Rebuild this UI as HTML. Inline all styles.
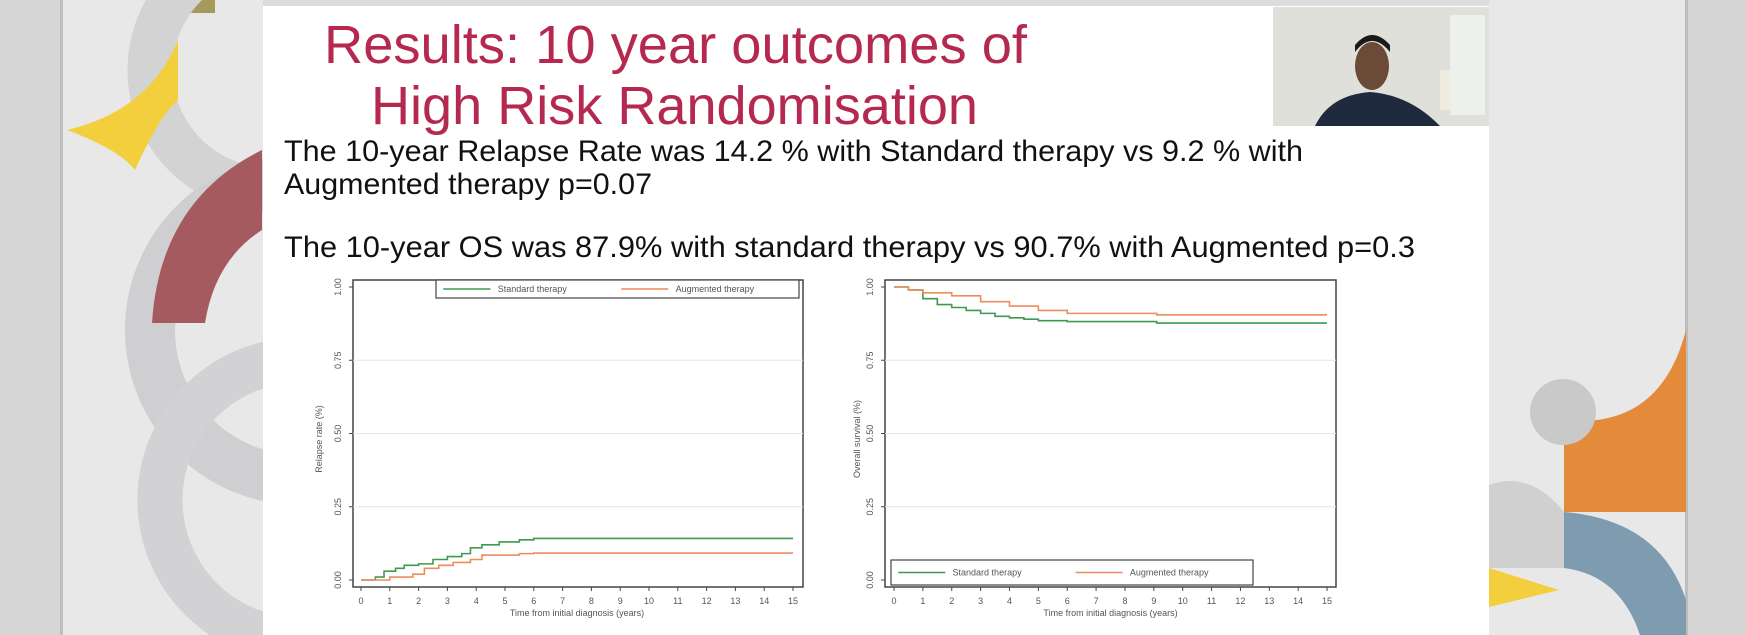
<!DOCTYPE html>
<html><head><meta charset="utf-8"><style>
html,body{margin:0;padding:0;width:1746px;height:635px;overflow:hidden;background:#e9e9e9}
svg{display:block}
text{font-family:"Liberation Sans",sans-serif}
</style></head><body>
<svg id="s" width="1746" height="635" viewBox="0 0 1746 635" xmlns="http://www.w3.org/2000/svg">
<defs>
<clipPath id="cl"><rect x="62" y="0" width="201" height="635"/></clipPath>
<clipPath id="cr"><rect x="1489" y="0" width="197" height="635"/></clipPath>
</defs>
<rect x="0" y="0" width="1746" height="635" fill="#e8e8e8"/>
<rect x="0" y="0" width="62" height="635" fill="#d6d6d6"/>
<rect x="60" y="0" width="3" height="635" fill="#bdbdbd"/>
<rect x="1686" y="0" width="60" height="635" fill="#d4d4d4"/>
<rect x="1685" y="0" width="3" height="635" fill="#bdbdbd"/>
<g clip-path="url(#cl)">
 <rect x="148" y="0" width="67" height="13" fill="#a59a5c"/>
 <circle cx="270" cy="70" r="120" fill="none" stroke="#d3d3d3" stroke-width="45"/>
 <path d="M178 40 Q150 110 67 130 Q120 150 135 170 Q160 115 178 100 Z" fill="#f4cf3d"/>
 <circle cx="300" cy="330" r="150" fill="none" stroke="#cfcfd1" stroke-width="50"/>
 <path d="M152 323 Q160 200 262 150 L262 230 Q215 260 205 323 Z" fill="#a55a5f"/>
 <circle cx="300" cy="500" r="140" fill="none" stroke="#d2d2d4" stroke-width="45"/>
</g>
<g clip-path="url(#cr)">
 <path d="M1489 485 Q1530 470 1564 512 L1564 568 L1489 568 Z" fill="#d0d0d0"/>
 <path d="M1564 512 L1564 420 Q1660 430 1686 330 L1686 512 Z" fill="#e48a3b"/>
 <path d="M1564 512 Q1660 520 1686 600 L1686 635 L1640 635 Q1620 575 1564 568 Z" fill="#7e9bb0"/>
 <path d="M1489 568 L1559 590 L1489 607 Z" fill="#f4cf3d"/>
 <circle cx="1563" cy="412" r="33" fill="#c9c9c9"/>
</g>
<rect x="263" y="6" width="1226" height="629" fill="#ffffff"/>
<rect x="263" y="0" width="1226" height="6" fill="#dcdcdc"/>
<!-- webcam -->
<rect x="1273" y="7" width="216" height="119" fill="#dfe0da"/>
<rect x="1450" y="15" width="35" height="100" fill="#eef0ee"/>
<rect x="1440" y="70" width="10" height="40" fill="#f0ede0"/>
<path d="M1315 126 Q1330 95 1370 92 Q1410 95 1440 126 Z" fill="#1f2a3f"/>
<ellipse cx="1372" cy="66" rx="17" ry="24" fill="#6b4a38"/>
<path d="M1355 52 Q1372 30 1390 52 L1390 45 Q1372 25 1355 45 Z" fill="#1a1a1a"/>
<text x="324" y="63" font-size="54" fill="#b5284f" textLength="703" lengthAdjust="spacingAndGlyphs">Results: 10 year outcomes of</text>
<text x="371" y="124" font-size="54" fill="#b5284f" textLength="607" lengthAdjust="spacingAndGlyphs">High Risk Randomisation</text>
<text x="284" y="161" font-size="30" fill="#111" textLength="1019" lengthAdjust="spacingAndGlyphs">The 10-year Relapse Rate was 14.2 % with Standard therapy vs 9.2 % with</text>
<text x="284" y="194" font-size="30" fill="#111" textLength="368" lengthAdjust="spacingAndGlyphs">Augmented therapy p=0.07</text>
<text x="284" y="257" font-size="30" fill="#111" textLength="1131" lengthAdjust="spacingAndGlyphs">The 10-year OS was 87.9% with standard therapy vs 90.7%  with Augmented p=0.3</text>
<g id="charts"></g>
</svg>
<script>
var g=document.getElementById('charts'),h='';
function chart(bx0,bx1,x0,xs,title,ytitle,ytx,curves,leg){
 h+='<rect x="'+bx0+'" y="280" width="'+(bx1-bx0)+'" height="307" fill="#fff" stroke="#444" stroke-width="1.5"/>';
 [0.25,0.5,0.75].forEach(function(v){var y=580-v*293;h+='<line x1="'+bx0+'" x2="'+bx1+'" y1="'+y+'" y2="'+y+'" stroke="#e6e6e6"/>';});
 ['0.00','0.25','0.50','0.75','1.00'].forEach(function(l,i){var y=580-i*0.25*293;
  h+='<line x1="'+(bx0-4)+'" x2="'+bx0+'" y1="'+y+'" y2="'+y+'" stroke="#444"/>';
  h+='<text font-size="9" fill="#555" text-anchor="middle" transform="translate('+(bx0-12)+','+y+') rotate(-90)">'+l+'</text>';});
 for(var t=0;t<=15;t++){var x=x0+t*xs;h+='<line x1="'+x+'" x2="'+x+'" y1="587" y2="591" stroke="#444"/><text x="'+x+'" y="604" font-size="9" fill="#555" text-anchor="middle">'+t+'</text>';}
 h+='<text x="'+((x0+x0+15*xs)/2)+'" y="616" font-size="9" fill="#555" text-anchor="middle">Time from initial diagnosis (years)</text>';
 h+='<text font-size="9" fill="#555" text-anchor="middle" transform="translate('+ytx+',439) rotate(-90)">'+ytitle+'</text>';
 curves.forEach(function(c){var p='';c.pts.forEach(function(q,i){var x=x0+q[0]*xs,y=580-q[1]*293;
  if(i==0)p='M'+x+' '+y;else p+=' H'+x+' V'+y;});
  h+='<path d="'+p+'" fill="none" stroke="'+c.col+'" stroke-width="1.6"/>';});
 var L=leg;h+='<rect x="'+L[0]+'" y="'+L[1]+'" width="'+(L[2]-L[0])+'" height="'+(L[3]-L[1])+'" fill="#fff" stroke="#444" stroke-width="1.2"/>';
 var w=L[2]-L[0],my=(L[1]+L[3])/2;
 h+='<line x1="'+(L[0]+w*0.02)+'" x2="'+(L[0]+w*0.15)+'" y1="'+my+'" y2="'+my+'" stroke="#3f9a4f" stroke-width="1.6"/>';
 h+='<text x="'+(L[0]+w*0.17)+'" y="'+(my+3)+'" font-size="9" fill="#555">Standard therapy</text>';
 h+='<line x1="'+(L[0]+w*0.51)+'" x2="'+(L[0]+w*0.64)+'" y1="'+my+'" y2="'+my+'" stroke="#ee8c5c" stroke-width="1.6"/>';
 h+='<text x="'+(L[0]+w*0.66)+'" y="'+(my+3)+'" font-size="9" fill="#555">Augmented therapy</text>';
}
chart(353,803,361,28.8,'','Relapse rate (%)',322,[
 {col:'#3f9a4f',pts:[[0,0],[0.5,0.01],[0.8,0.03],[1.2,0.04],[1.5,0.05],[2,0.055],[2.5,0.07],[3,0.08],[3.5,0.09],[3.8,0.11],[4.2,0.12],[4.8,0.13],[5.5,0.137],[6,0.142],[15,0.142]]},
 {col:'#ee8c5c',pts:[[0,0],[1,0.01],[1.8,0.02],[2.2,0.04],[2.7,0.05],[3.2,0.06],[3.8,0.07],[4.2,0.085],[5.5,0.09],[6,0.092],[15,0.092]]}],
 [436,280,799,298]);
chart(885,1336,894,28.87,'','Overall survival (%)',860,[
 {col:'#3f9a4f',pts:[[0,1],[0.5,0.99],[1,0.96],[1.5,0.94],[2,0.93],[2.5,0.92],[3,0.91],[3.5,0.9],[4,0.895],[4.5,0.89],[5,0.885],[6,0.882],[9,0.882],[9.1,0.877],[15,0.877]]},
 {col:'#ee8c5c',pts:[[0,1],[0.5,0.99],[1,0.98],[2,0.97],[3,0.95],[4,0.935],[5,0.92],[6,0.91],[9,0.91],[9.1,0.905],[15,0.905]]}],
 [891,560,1253,585]);
g.innerHTML=h;
</script>
</body></html>
